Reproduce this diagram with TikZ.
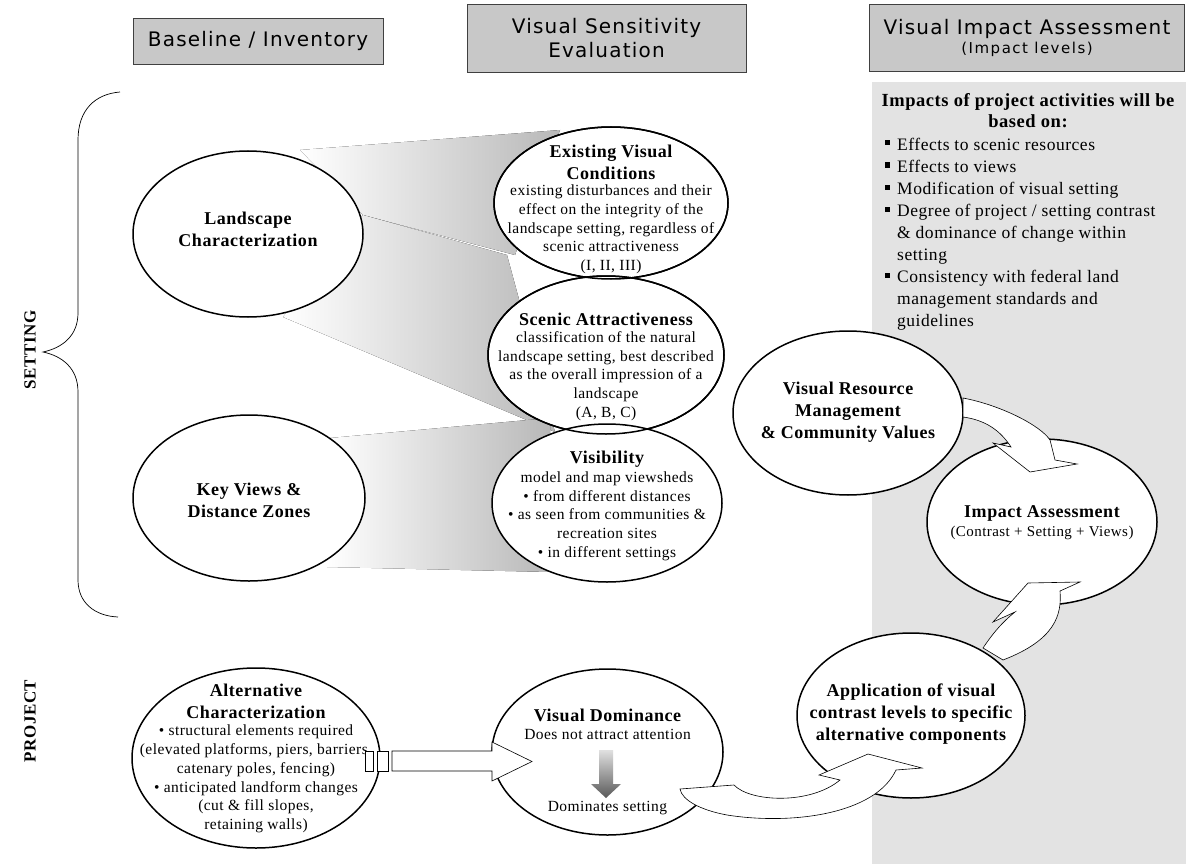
\documentclass[tikz,border=0pt]{standalone}
\usepackage{fontspec}
\setmainfont{Liberation Serif}[LetterSpace=3]
\newfontfamily\hdrfont{DejaVu Sans}[LetterSpace=6]
\newfontfamily\hdrsmall{DejaVu Sans}[LetterSpace=10]
\usetikzlibrary{shapes.geometric}
\definecolor{hdrfill}{RGB}{200,200,200}
\definecolor{panelgray}{RGB}{227,227,227}
\definecolor{wedgegray}{RGB}{184,184,184}
\begin{document}
\begin{tikzpicture}[x=1pt,y=-1pt,
  ell/.style={draw=black, line width=1.5pt, fill=white, ellipse, inner sep=0pt},
  hdrbox/.style={draw=black!75, line width=0.8pt, fill=hdrfill, align=center, inner sep=0pt},
  hdrtxt/.style={font=\hdrfont\fontsize{20}{24}\selectfont},
  ttl/.style={font=\fontsize{18}{22}\selectfont\bfseries, align=center, inner sep=0pt},
  body/.style={font=\fontsize{15.5}{18.7}\selectfont, align=center, inner sep=0pt},
  paneltxt/.style={font=\fontsize{17.5}{22}\selectfont, anchor=base west, inner sep=0pt},
  sqbullet/.style={fill=black, minimum size=5pt, inner sep=0pt},
  blockarrow/.style={draw=black, line width=0.6pt, fill=white},
  wedge/.style={left color=white, right color=wedgegray, draw=none},
  sidelabel/.style={font=\fontsize{17}{20}\selectfont\bfseries, rotate=90, inner sep=0pt}]

\useasboundingbox (0,0) rectangle (1186,864);
\fill[white] (0,0) rectangle (1186,864);

% right panel
\fill[panelgray] (872,82) rectangle (1186,864);

% headers
\node[hdrbox, hdrtxt, minimum width=250pt, minimum height=46pt] (hb) at (258,41) {Baseline / Inventory};
\node[hdrbox, hdrtxt, minimum width=279pt, minimum height=68pt] (hv) at (606.5,38) {Visual Sensitivity\\Evaluation};
\node[hdrbox, minimum width=315pt, minimum height=67pt] (hi) at (1027,38) {{\hdrfont\fontsize{20}{24}\selectfont Visual Impact Assessment}\\[3pt]{\hdrsmall\fontsize{15}{17}\selectfont (Impact levels)}};

% panel text
\node[font=\fontsize{18.5}{21}\selectfont\bfseries, align=center, inner sep=0pt] (ph) at (1028,111) {Impacts of project activities will be\\based on:};
\node[sqbullet] (b1) at (887,143) {};
\node[paneltxt] (l1) at (897,150) {Effects to scenic resources};
\node[sqbullet] (b2) at (887,165) {};
\node[paneltxt] (l2) at (897,172) {Effects to views};
\node[sqbullet] (b3) at (887,187) {};
\node[paneltxt] (l3) at (897,194) {Modification of visual setting};
\node[sqbullet] (b4) at (887,209) {};
\node[paneltxt] (l4) at (897,216) {Degree of project / setting contrast};
\node[paneltxt] (l5) at (897,238) {\& dominance of change within};
\node[paneltxt] (l6) at (897,260) {setting};
\node[sqbullet] (b5) at (887,275) {};
\node[paneltxt] (l7) at (897,282) {Consistency with federal land};
\node[paneltxt] (l8) at (897,304) {management standards and};
\node[paneltxt] (l9) at (897,326) {guidelines};

% brace and side labels
\draw[line width=0.7pt] (120,92) .. controls (95,94) and (78,110) .. (78,140) -- (78,313)
  .. controls (78,336) and (62,348) .. (43,352) .. controls (62,356) and (78,368) .. (78,392)
  -- (78,580) .. controls (78,603) and (95,616) .. (118,617);
\node[sidelabel] (setting) at (30,350) {SETTING};
\node[sidelabel] (project) at (30,721) {PROJECT};

% shaded wedges
\fill[wedge] (300,150) -- (560,130) -- (515,255) -- (363,215) -- cycle;
\fill[wedge] (363,215) -- (507,255) -- (555,432) -- (283,317) -- cycle;
\fill[wedge] (330,438) -- (550,418) -- (550,572) -- (327,567) -- cycle;

% ellipses
\node[ell, minimum width=230pt, minimum height=166pt] (lc) at (248,234) {};
\node[ell, minimum width=232pt, minimum height=166pt] (kv) at (249,498) {};
\node[ell, minimum width=234pt, minimum height=152pt] (ev) at (611,203) {};
\node[ell, minimum width=236pt, minimum height=158pt] (sa) at (606,355) {};
\node[ell, minimum width=230pt, minimum height=158pt] (vi) at (607,503) {};
\node[ell, minimum width=230pt, minimum height=164pt] (vr) at (848,413) {};
\node[ell, minimum width=230pt, minimum height=166pt] (ia) at (1042,522) {};
\node[ell, minimum width=228pt, minimum height=165pt] (ap) at (911,715.5) {};
\node[ell, minimum width=231pt, minimum height=166pt] (vd) at (607.5,752) {};
\node[ell, minimum width=248pt, minimum height=180pt] (ac) at (256,758) {};
% redraw overlapped outlines
\draw[line width=1.5pt] (ev.center) ellipse [x radius=117, y radius=76];
\draw[line width=1.5pt] (sa.center) ellipse [x radius=118, y radius=79];

% ellipse texts
\node[ttl] (lct) at (248,229) {Landscape\\Characterization};
\node[ttl] (kvt) at (249,500) {Key Views \&\\Distance Zones};
\node[ttl] (evt) at (611,162) {Existing Visual\\Conditions};
\node[body] (evb) at (611,229.5) {existing disturbances and their\\effect on the integrity of the\\landscape setting, regardless of\\scenic attractiveness\\(I, II, III)};
\node[ttl] (sat) at (606,319) {Scenic Attractiveness};
\node[body] (sab) at (606,376) {classification of the natural\\landscape setting, best described\\as the overall impression of a\\landscape\\(A, B, C)};
\node[ttl] (vit) at (607,459) {Visibility};
\node[body] (vib) at (607,516) {model and map viewsheds\\• from different distances\\• as seen from communities \&\\recreation sites\\• in different settings};
\node[ttl] (vrt) at (848,412) {Visual Resource\\Management\\\& Community Values};
\node[ttl] (iat) at (1042,513) {Impact Assessment};
\node[font=\fontsize{15}{17}\selectfont, inner sep=0pt] (ias) at (1042,533) {(Contrast + Setting + Views)};
\node[ttl] (apt) at (911,714) {Application of visual\\contrast levels to specific\\alternative components};
\node[ttl] (vdt) at (607.5,715) {Visual Dominance};
\node[body] (vds) at (607.5,734) {Does not attract attention};
\node[body] (vdb) at (607.5,808) {Dominates setting};
\node[ttl] (act) at (256,701) {Alternative\\Characterization};
\node[body] (acb) at (256,779) {• structural elements required\\(elevated platforms, piers, barriers,\\catenary poles, fencing)\\• anticipated landform changes\\(cut \& fill slopes,\\retaining walls)};

% small gradient arrow in Visual Dominance
\shade[top color=black!12, bottom color=black!65]
  (599,750) -- (613,750) -- (613,784) -- (621,784) -- (606,798) -- (591,784) -- (599,784) -- cycle;

% striped block arrow Alternative -> Visual Dominance
\draw[blockarrow] (365,751) rectangle (373,771);
\draw[blockarrow] (377,751) rectangle (388,771);
\draw[blockarrow] (392,751) -- (492,751) -- (492,742) -- (532,761.5) -- (492,781) -- (492,771) -- (392,771) -- cycle;

% curved block arrow Visual Dominance -> Application
\draw[blockarrow] (680,789) -- (734,785) .. controls (750,802) and (810,805) .. (840,780)
  -- (819,775) -- (868,754) -- (922,768) -- (896,770)
  .. controls (875,815) and (790,825) .. (727,815) .. controls (700,810) and (682,800) .. cycle;

% curved block arrow Application -> Impact Assessment
\draw[blockarrow] (983,648) .. controls (995,630) and (1005,620) .. (1015,612)
  -- (993,622) -- (1028,583) -- (1080,582) -- (1060,591)
  .. controls (1062,615) and (1055,640) .. (1003,660) -- cycle;

% curved block arrow Visual Resource Management -> Impact Assessment
\draw[blockarrow] (963,398) .. controls (1000,405) and (1040,425) .. (1050,440)
  -- (1055,460) -- (1077,464) -- (1030,472) -- (993,443) -- (1011,447)
  .. controls (1000,430) and (985,420) .. (963,417) -- cycle;
\end{tikzpicture}
\end{document}
